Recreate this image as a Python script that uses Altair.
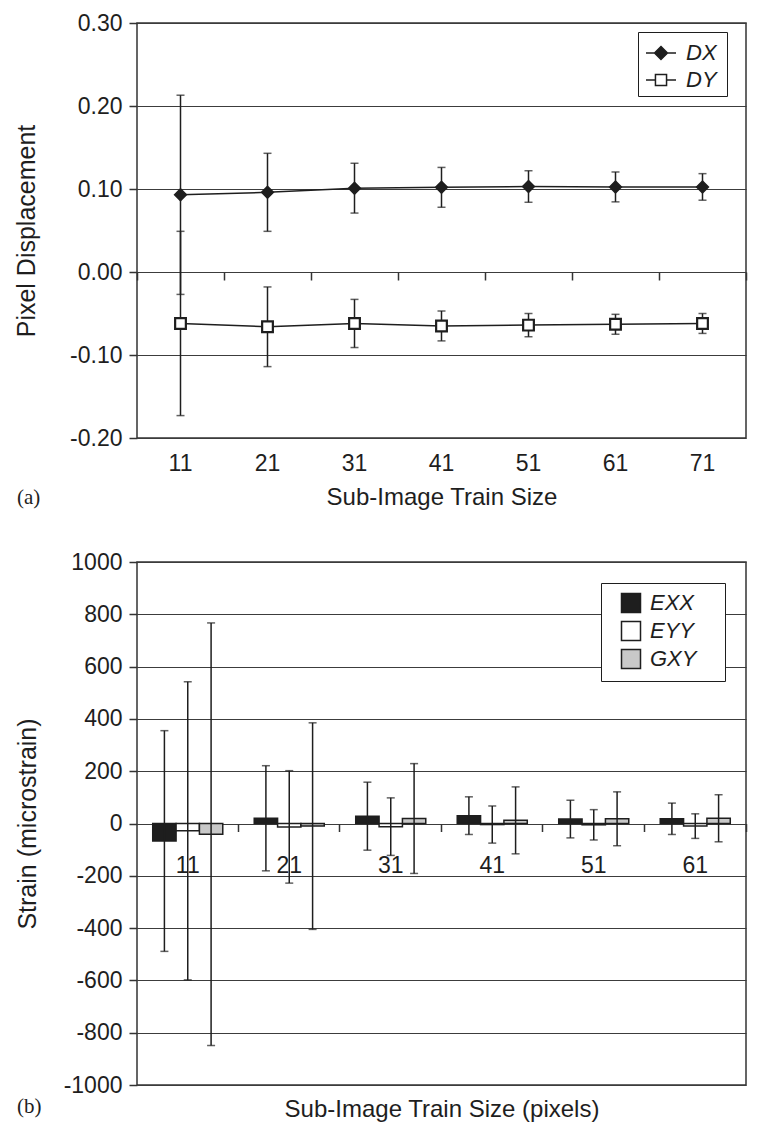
import altair as alt
import pandas as pd

# ---------------- data: panel (a) ----------------
SIZES_A = [11, 21, 31, 41, 51, 61, 71]
SERIES_A = ["DX", "DY"]
DX_MEAN = [0.093, 0.096, 0.101, 0.102, 0.103, 0.1025, 0.1025]
DX_ERR = [0.120, 0.047, 0.030, 0.024, 0.019, 0.018, 0.016]
DY_MEAN = [-0.062, -0.066, -0.062, -0.065, -0.064, -0.063, -0.062]
DY_ERR = [0.111, 0.048, 0.029, 0.018, 0.014, 0.012, 0.012]
Y_TICKS_A = [-0.2, -0.1, 0.0, 0.1, 0.2, 0.3]

# ---------------- data: panel (b) ----------------
SIZES_B = [11, 21, 31, 41, 51, 61]
SERIES_B = ["EXX", "EYY", "GXY"]
EXX_MEAN = [-67, 20, 28, 30, 17, 18]
EXX_ERR = [422, 201, 130, 72, 72, 60]
EYY_MEAN = [-28, -13, -12, -4, -5, -10]
EYY_ERR = [570, 215, 110, 71, 58, 47]
GXY_MEAN = [-41, -10, 19, 12, 18, 20]
GXY_ERR = [808, 395, 210, 128, 103, 90]
Y_TICKS_B = [-1000, -800, -600, -400, -200, 0, 200, 400, 600, 800, 1000]

rows_a = []
for s, means, errs in (("DX", DX_MEAN, DX_ERR), ("DY", DY_MEAN, DY_ERR)):
    for size, m, e in zip(SIZES_A, means, errs):
        rows_a.append({"size": size, "disp": s, "mean": m, "lo": m - e, "hi": m + e})
df_a = pd.DataFrame(rows_a)

rows_b = []
for s, means, errs in (("EXX", EXX_MEAN, EXX_ERR), ("EYY", EYY_MEAN, EYY_ERR), ("GXY", GXY_MEAN, GXY_ERR)):
    for size, m, e in zip(SIZES_B, means, errs):
        rows_b.append({"size": size, "comp": s, "mean": m, "lo": m - e, "hi": m + e})
df_b = pd.DataFrame(rows_b)

INK = "#1e1e1e"
W = 609
H1 = 415
H2 = 523
YA = [Y_TICKS_A[0], Y_TICKS_A[-1]]
YB = [Y_TICKS_B[0], Y_TICKS_B[-1]]
zero_a = H1 * (YA[1] - 0) / (YA[1] - YA[0])
zero_b = H2 * (YB[1] - 0) / (YB[1] - YB[0])

# ---------------- panel (a) ----------------
xs_a = alt.Scale(type="band", paddingInner=0, paddingOuter=0)
xa_main = alt.X("size:O", scale=xs_a, axis=alt.Axis(
    orient="bottom", title="Sub-Image Train Size", labelAngle=0, ticks=False, domain=False,
    grid=False, labelPadding=14, titlePadding=10))
xa_ticks = alt.X("size:O", scale=xs_a, axis=alt.Axis(
    orient="bottom", title=None, labels=False, ticks=True, tickSize=8, tickBand="extent",
    domain=False, grid=False, offset=zero_a - H1))
xa_none = alt.X("size:O", scale=xs_a, axis=None)

ys_a = alt.Scale(domain=YA, nice=False, zero=False)
ya_axis = alt.Axis(
    values=Y_TICKS_A,
    labelExpr="datum.value < 0 ? '-' + format(-datum.value, '.2f') : format(datum.value, '.2f')",
    title="Pixel Displacement", titleFontSize=25, grid=True, tickSize=8,
    labelPadding=7, titlePadding=30, domain=False)

DX_PATH = "M-1,0H-0.43M0.43,0H1M0,-0.43L0.43,0L0,0.43L-0.43,0Z"
DY_PATH = "M-1,0H-0.37M0.37,0H1M-0.37,-0.37H0.37V0.37H-0.37Z"
leg_a = alt.Legend(
    title="\u00a0", titleOrient="right", titlePadding=5, titleFontSize=22,
    orient="none", legendX=501, legendY=9, direction="vertical",
    symbolSize=900, symbolOpacity=1, labelFontSize=22, labelFontStyle="italic",
    labelFont="Liberation Sans", labelColor=INK, padding=5, symbolOffset=2,
    labelOffset=9, rowPadding=0, strokeColor=INK, fillColor="white",
    symbolStrokeColor=INK, symbolStrokeWidth=1.5)

ya = alt.Y("mean:Q", scale=ys_a, axis=ya_axis)

base_a = alt.Chart(df_a)
rules_a = base_a.mark_rule(color=INK, strokeWidth=1.5).encode(
    x=xa_main, y=alt.Y("lo:Q", scale=ys_a, axis=ya_axis), y2="hi:Q")
caps_a = base_a.transform_fold(["lo", "hi"], as_=["end", "val"]).mark_tick(
    color=INK, size=8, thickness=1.5).encode(
    x=xa_ticks, y=alt.Y("val:Q", scale=ys_a, axis=ya_axis))
lines_a = base_a.mark_line(color=INK, strokeWidth=1.5).encode(
    x=xa_none, y=ya, detail="disp:N")
pts_dx = base_a.transform_filter(alt.datum.disp == "DX").mark_point(
    shape="diamond", filled=True, fill=INK, stroke=INK, strokeWidth=1.5, opacity=1, size=140).encode(
    x=xa_none, y=ya)
pts_dy = base_a.transform_filter(alt.datum.disp == "DY").mark_point(
    shape="square", filled=True, fill="#ffffff", stroke=INK, strokeWidth=2.2, opacity=1, size=115).encode(
    x=xa_none, y=ya)
# legend-only layer: its rows are filtered out, the legend comes from the explicit scale domains
legend_a = base_a.transform_filter("false").mark_point(
    opacity=1, filled=False, strokeWidth=1.5).encode(
    x=xa_none, y=ya,
    shape=alt.Shape("disp:N", scale=alt.Scale(domain=SERIES_A, range=[DX_PATH, DY_PATH]), legend=leg_a),
    fill=alt.Fill("disp:N", scale=alt.Scale(domain=SERIES_A, range=[INK, "#ffffff"]), legend=leg_a),
    stroke=alt.Stroke("disp:N", scale=alt.Scale(domain=SERIES_A, range=[INK, INK]), legend=leg_a))
label_a = alt.Chart(pd.DataFrame({"t": ["(a)"]})).mark_text(
    align="left", baseline="middle", font="Liberation Serif", fontSize=21, color=INK).encode(
    x=alt.value(-120), y=alt.value(H1 + 60), text="t:N")

top = alt.layer(rules_a, caps_a, lines_a, pts_dx, pts_dy, legend_a, label_a).resolve_axis(
    x="independent").properties(width=W, height=H1)

# ---------------- panel (b) ----------------
PAD_IN = 0.31
xs_b = alt.Scale(type="band", paddingInner=PAD_IN, paddingOuter=PAD_IN / 2)
xo = alt.XOffset("comp:N", scale=alt.Scale(domain=SERIES_B, paddingInner=0, paddingOuter=0))
xb_main = alt.X("size:O", scale=xs_b, axis=alt.Axis(
    orient="bottom", title="Sub-Image Train Size (pixels)", labels=False, ticks=False,
    domain=False, grid=False, titlePadding=12))
xb_labels = alt.X("size:O", scale=xs_b, axis=alt.Axis(
    orient="bottom", title=None, labels=True, labelAngle=0, ticks=False,
    domain=False, grid=False, offset=zero_b - H2, labelPadding=31))
xb_ticks = alt.X("size:O", scale=xs_b, axis=alt.Axis(
    orient="bottom", title=None, labels=False, ticks=True, tickSize=8,
    bandPosition=1 + PAD_IN / (2 * (1 - PAD_IN)),
    domain=False, grid=False, offset=zero_b - H2))

ys_b = alt.Scale(domain=YB, nice=False, zero=False)
yb_axis = alt.Axis(
    values=Y_TICKS_B,
    labelExpr="datum.value < 0 ? '-' + format(-datum.value, 'd') : format(datum.value, 'd')",
    title="Strain (microstrain)", titleFontSize=25, grid=True, tickSize=8,
    labelPadding=7, titlePadding=23, domain=False)

leg_b = alt.Legend(
    title="\u00a0", titleOrient="right", titlePadding=20, titleFontSize=22,
    orient="none", legendX=464, legendY=21, direction="vertical",
    symbolType="square", symbolSize=361, symbolStrokeColor=INK, symbolStrokeWidth=1.5,
    labelFontSize=22, labelFontStyle="italic", labelFont="Liberation Sans", labelColor=INK,
    padding=9, symbolOffset=10, labelOffset=8, rowPadding=2,
    strokeColor=INK, fillColor="white")

base_b = alt.Chart(df_b)
bars_b = base_b.mark_bar(stroke=INK, strokeWidth=1.5).encode(
    x=xb_main, xOffset=xo, y=alt.Y("mean:Q", scale=ys_b, axis=yb_axis),
    fill=alt.Fill("comp:N", scale=alt.Scale(domain=SERIES_B, range=[INK, "#ffffff", "#c8c8c8"]), legend=leg_b))
rules_b = base_b.mark_rule(color=INK, strokeWidth=1.5).encode(
    x=xb_labels, xOffset=xo, y=alt.Y("lo:Q", scale=ys_b, axis=yb_axis), y2="hi:Q")
caps_b = base_b.transform_fold(["lo", "hi"], as_=["end", "val"]).mark_tick(
    color=INK, size=8, thickness=1.5).encode(
    x=xb_ticks, xOffset=xo, y=alt.Y("val:Q", scale=ys_b, axis=yb_axis))
label_b = alt.Chart(pd.DataFrame({"t": ["(b)"]})).mark_text(
    align="left", baseline="middle", font="Liberation Serif", fontSize=21, color=INK).encode(
    x=alt.value(-120), y=alt.value(H2 + 22), text="t:N")

bottom = alt.layer(bars_b, rules_b, caps_b, label_b).resolve_axis(
    x="independent").properties(width=W, height=H2)

chart = alt.vconcat(top, bottom, spacing=40).resolve_scale(
    fill="independent", shape="independent", stroke="independent"
).resolve_legend(
    fill="independent", shape="independent", stroke="independent"
).properties(
    padding={"left": 5, "right": 0, "top": 3, "bottom": 5}
).configure_axis(
    labelFont="Liberation Sans", titleFont="Liberation Sans",
    labelFontSize=23, titleFontSize=24, titleFontWeight="normal",
    labelColor=INK, titleColor=INK, tickColor="#333333", tickWidth=1.5,
    gridColor="#3c3c3c", gridWidth=1.2
).configure_view(stroke="#333333", strokeWidth=1.5)

chart.save("out.html", embed_options={"renderer": "svg", "actions": False})
